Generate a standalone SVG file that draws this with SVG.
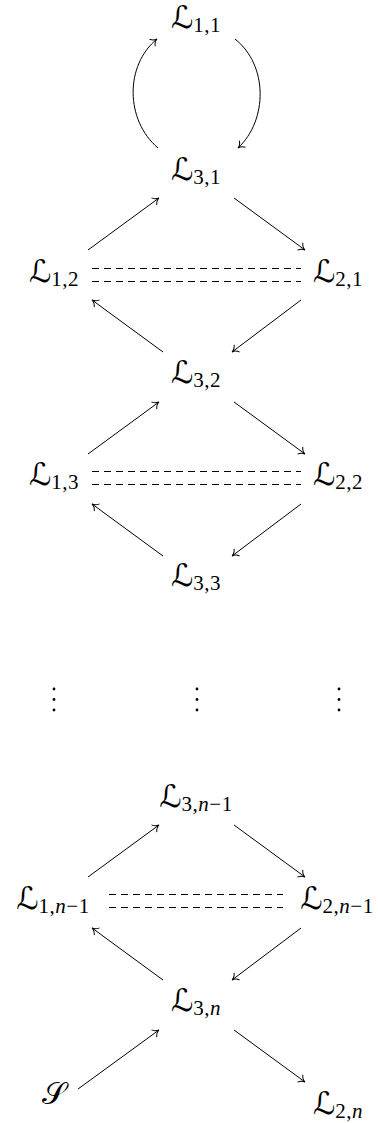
<svg xmlns="http://www.w3.org/2000/svg" width="378" height="1123" viewBox="0 0 378 1123">
<style>
.lbl{font-family:"DejaVu Sans","DejaVu Serif",serif;font-size:31px;fill:#000;text-anchor:middle}
.sub{font-family:"Liberation Serif",serif;font-size:21px;letter-spacing:0.5px}
.it{font-style:italic}
.c{fill:none;stroke:#000;stroke-width:1}
.d{fill:none;stroke:#000;stroke-width:1;stroke-dasharray:7 5}
</style>
<defs>
<marker id="to" viewBox="-7 -5 8 10" refX="0" refY="0" markerWidth="8" markerHeight="10" markerUnits="userSpaceOnUse" orient="auto">
<path d="M-6,-4.5 C-4.5,-1.8 -1.8,-0.3 0,0 C-1.8,0.3 -4.5,1.8 -6,4.5" fill="none" stroke="#000" stroke-width="1"/>
</marker>
</defs>
<rect width="378" height="1123" fill="#fff"/>
<g id="connectors">
<path class="c" d="M158,148 C125,120 125,65 157,39" marker-end="url(#to)"/>
<path class="c" d="M235,39 C268,65 268,120 238,148" marker-end="url(#to)"/>
<line class="c" x1="88" y1="250" x2="159" y2="198" marker-end="url(#to)"/>
<line class="c" x1="234" y1="198" x2="305" y2="250" marker-end="url(#to)"/>
<line class="c" x1="163" y1="352" x2="92" y2="300" marker-end="url(#to)"/>
<line class="c" x1="301" y1="300" x2="232" y2="352" marker-end="url(#to)"/>
<line class="d" x1="92" y1="268.5" x2="301" y2="268.5"/>
<line class="d" x1="92" y1="281.5" x2="301" y2="281.5"/>
<line class="c" x1="88" y1="454" x2="159" y2="402" marker-end="url(#to)"/>
<line class="c" x1="234" y1="402" x2="305" y2="454" marker-end="url(#to)"/>
<line class="c" x1="163" y1="556" x2="92" y2="504" marker-end="url(#to)"/>
<line class="c" x1="301" y1="504" x2="232" y2="556" marker-end="url(#to)"/>
<line class="d" x1="92" y1="471.5" x2="301" y2="471.5"/>
<line class="d" x1="92" y1="484.5" x2="301" y2="484.5"/>
<line class="c" x1="88" y1="877" x2="159" y2="825" marker-end="url(#to)"/>
<line class="c" x1="234" y1="825" x2="305" y2="877" marker-end="url(#to)"/>
<line class="c" x1="163" y1="980" x2="92" y2="928" marker-end="url(#to)"/>
<line class="c" x1="301" y1="928" x2="232" y2="980" marker-end="url(#to)"/>
<line class="d" x1="109" y1="894.5" x2="283" y2="894.5"/>
<line class="d" x1="109" y1="907.5" x2="283" y2="907.5"/>
<line class="c" x1="78" y1="1089" x2="159" y2="1030" marker-end="url(#to)"/>
<line class="c" x1="234" y1="1030" x2="305" y2="1082" marker-end="url(#to)"/>
</g>
<g id="dots" fill="#000">
<circle cx="54" cy="689" r="1.4"/><circle cx="54" cy="699.5" r="1.4"/><circle cx="54" cy="710" r="1.4"/>
<circle cx="197" cy="689" r="1.4"/><circle cx="197" cy="699.5" r="1.4"/><circle cx="197" cy="710" r="1.4"/>
<circle cx="339" cy="689" r="1.4"/><circle cx="339" cy="699.5" r="1.4"/><circle cx="339" cy="710" r="1.4"/>
</g>
<g id="L11"><text class="lbl" x="196" y="28">ℒ<tspan class="sub" dy="4">1,1</tspan></text></g>
<g id="L31"><text class="lbl" x="196" y="180">ℒ<tspan class="sub" dy="4">3,1</tspan></text></g>
<g id="L12"><text class="lbl" x="54" y="282">ℒ<tspan class="sub" dy="4">1,2</tspan></text></g>
<g id="L21"><text class="lbl" x="338" y="282">ℒ<tspan class="sub" dy="4">2,1</tspan></text></g>
<g id="L32"><text class="lbl" x="196" y="383">ℒ<tspan class="sub" dy="4">3,2</tspan></text></g>
<g id="L13"><text class="lbl" x="54" y="485">ℒ<tspan class="sub" dy="4">1,3</tspan></text></g>
<g id="L22"><text class="lbl" x="338" y="485">ℒ<tspan class="sub" dy="4">2,2</tspan></text></g>
<g id="L33"><text class="lbl" x="196" y="586">ℒ<tspan class="sub" dy="4">3,3</tspan></text></g>
<g id="L3n1"><text class="lbl" x="196" y="807">ℒ<tspan class="sub" dy="4">3,<tspan class="it">n</tspan>−1</tspan></text></g>
<g id="L1n1"><text class="lbl" x="53" y="909">ℒ<tspan class="sub" dy="4">1,<tspan class="it">n</tspan>−1</tspan></text></g>
<g id="L2n1"><text class="lbl" x="337" y="909">ℒ<tspan class="sub" dy="4">2,<tspan class="it">n</tspan>−1</tspan></text></g>
<g id="L3n"><text class="lbl" x="196" y="1011">ℒ<tspan class="sub" dy="4">3,<tspan class="it">n</tspan></tspan></text></g>
<g id="S"><text class="lbl" x="54" y="1104">𝒮</text></g>
<g id="L2n"><text class="lbl" x="338" y="1114">ℒ<tspan class="sub" dy="4">2,<tspan class="it">n</tspan></tspan></text></g>
</svg>
